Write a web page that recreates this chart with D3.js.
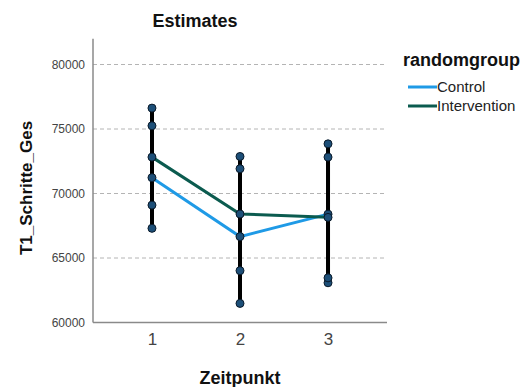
<!DOCTYPE html>
<html><head><meta charset="utf-8">
<script src="https://cdn.jsdelivr.net/npm/d3@7"></script>
<style>body{margin:0;background:#fff}svg{display:block}text{font-family:Arial,"Liberation Sans",sans-serif}</style>
</head><body><svg id="c" width="531" height="387"></svg>
<script>
const timepoints = [1, 2, 3];
const groups = ["Control", "Intervention"];
const controlMean = [71230, 66660, 68400];
const controlLow = [67300, 61480, 63080];
const controlHigh = [75250, 71920, 73850];
const interventionMean = [72820, 68410, 68150];
const interventionLow = [69100, 64020, 63460];
const interventionHigh = [76620, 72870, 72820];
const yTicks = [60000, 65000, 70000, 75000, 80000];
const colors = {Control: "#1f9ae6", Intervention: "#0b5b4f"};

const series = [
  {name: "Control", mean: controlMean, low: controlLow, high: controlHigh},
  {name: "Intervention", mean: interventionMean, low: interventionLow, high: interventionHigh}
];

const svg = d3.select("#c");
const x = d3.scaleLinear().domain([0.33, 3.67]).range([93, 387]);
const y = d3.scaleLinear().domain([60000, 80000]).range([322.5, 64.5]);
const yTop = y(82000);

// grid
svg.append("g").selectAll("line").data(yTicks.slice(1)).join("line")
  .attr("x1", 93).attr("x2", 387).attr("y1", d => y(d)).attr("y2", d => y(d))
  .attr("stroke", "#b4b4b4").attr("stroke-width", 1).attr("stroke-dasharray", "4,3");

// axes
const yAxis = d3.axisLeft(y).tickValues(yTicks).tickSize(0).tickPadding(8).tickFormat(d3.format("d"));
const gy = svg.append("g").attr("transform", "translate(93,0)").call(yAxis);
gy.select(".domain").remove();
gy.selectAll("text").attr("font-size", 12).attr("fill", "#444").attr("font-family", "Arial, 'Liberation Sans', sans-serif");
svg.append("line").attr("x1", 93).attr("x2", 93).attr("y1", yTop).attr("y2", y(60000)).attr("stroke", "#8a8a8a").attr("stroke-width", 1.5);

const xAxis = d3.axisBottom(x).tickValues(timepoints).tickSize(0).tickPadding(10).tickFormat(d3.format("d"));
const gx = svg.append("g").attr("transform", `translate(0,${y(60000)})`).call(xAxis);
gx.select(".domain").remove();
gx.selectAll("text").attr("font-size", 17).attr("fill", "#444").attr("font-family", "Arial, 'Liberation Sans', sans-serif");
svg.append("line").attr("x1", 93).attr("x2", 387).attr("y1", y(60000)).attr("y2", y(60000)).attr("stroke", "#8a8a8a").attr("stroke-width", 1.5);

// lines
const line = d3.line().x((d, i) => x(timepoints[i])).y(d => y(d));
series.forEach(s => {
  svg.append("path").attr("d", line(s.mean)).attr("fill", "none")
    .attr("stroke", colors[s.name]).attr("stroke-width", 3);
});

// error bars
series.forEach(s => {
  svg.append("g").selectAll("line").data(timepoints).join("line")
    .attr("x1", d => x(d)).attr("x2", d => x(d))
    .attr("y1", (d, i) => y(s.low[i])).attr("y2", (d, i) => y(s.high[i]))
    .attr("stroke", "#000").attr("stroke-width", 4);
});

// dots
series.forEach(s => {
  const pts = [];
  timepoints.forEach((t, i) => { pts.push([t, s.low[i]], [t, s.mean[i]], [t, s.high[i]]); });
  svg.append("g").selectAll("circle").data(pts).join("circle")
    .attr("cx", d => x(d[0])).attr("cy", d => y(d[1])).attr("r", 4)
    .attr("fill", "#1d4f78").attr("stroke", "#0a1a2a").attr("stroke-width", 1);
});

// titles
svg.append("text").attr("x", 195).attr("y", 27).attr("text-anchor", "middle")
  .attr("font-size", 18).attr("font-weight", "bold").attr("fill", "#111").text("Estimates");
svg.append("text").attr("x", 240).attr("y", 384).attr("text-anchor", "middle")
  .attr("font-size", 18).attr("font-weight", "bold").attr("fill", "#111").text("Zeitpunkt");
svg.append("text").attr("transform", "translate(32,188) rotate(-90)").attr("text-anchor", "middle")
  .attr("font-size", 17).attr("font-weight", "bold").attr("fill", "#111").text("T1_Schritte_Ges");

// legend
svg.append("text").attr("x", 403).attr("y", 66).attr("font-size", 18).attr("font-weight", "bold").attr("fill", "#111").text("randomgroup");
const lg = svg.append("g").selectAll("g").data(groups).join("g")
  .attr("transform", (d, i) => `translate(408,${87 + i * 19})`);
lg.append("line").attr("x1", 0).attr("x2", 29).attr("stroke", d => colors[d]).attr("stroke-width", 3);
lg.append("text").attr("x", 29).attr("y", 5).attr("font-size", 15).attr("fill", "#222").text(d => d);
</script></body></html>
